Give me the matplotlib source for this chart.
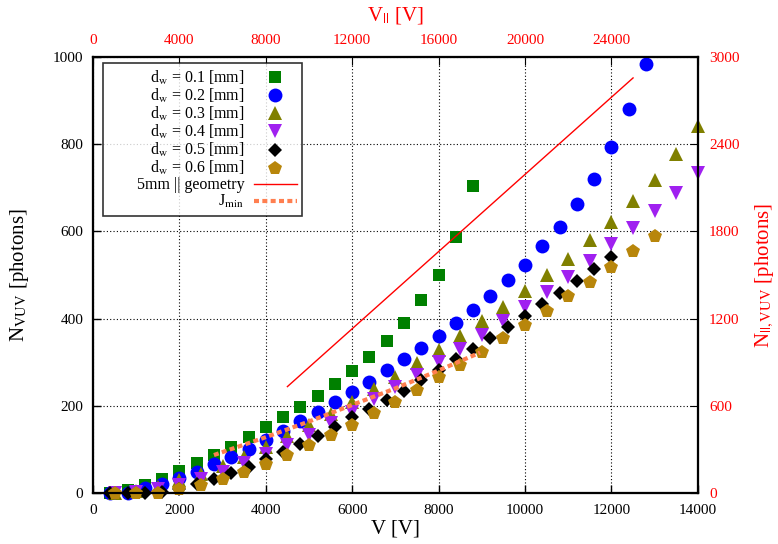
import matplotlib
matplotlib.use("Agg")
import matplotlib.pyplot as plt
import numpy as np

plt.rcParams['font.family'] = ['Liberation Serif', 'DejaVu Serif']
plt.rcParams['mathtext.fontset'] = 'stix'

# measured photon yields, V [V] -> N_VUV [photons]
v_400 = np.arange(400, 12801, 400)
v_500 = np.arange(500, 14001, 500)

n_01 = [0, 7, 18, 33, 51, 68, 86, 106, 128, 151, 174, 197, 222, 249, 280,
        311, 348, 391, 442, 501, 586, 704]
n_02 = [0, 1, 11, 21, 35, 49, 66, 83, 102, 122, 143, 164, 185, 208, 232,
        255, 281, 307, 333, 360, 389, 420, 451, 489, 524, 566, 611, 662,
        720, 793, 880, 985]
n_03 = [1, 4, 13, 30, 43, 62, 82, 105, 130, 155, 182, 209, 238, 267, 297,
        328, 360, 394, 427, 463, 500, 537, 580, 622, 669, 719, 777, 842]
n_04 = [0, 2, 8, 18, 31, 48, 68, 89, 110, 133, 160, 186, 216, 242, 271,
        301, 330, 362, 394, 427, 461, 495, 532, 570, 607, 646, 687, 733]
n_05 = [0, 0, 0, 2, 10, 21, 32, 45, 59, 79, 94, 112, 131, 152, 174, 193,
        213, 235, 260, 283, 307, 330, 355, 381, 407, 433, 459, 486, 513, 541]
n_06 = [0, 0, 1, 9, 18, 31, 47, 67, 87, 110, 132, 157, 183, 209, 236, 266,
        294, 324, 355, 386, 418, 452, 484, 519, 554, 589]

# parallel geometry (top / right axes)
v_par = [9000, 25000]
n_par = [732, 2856]
v_jmin = [5600, 8000, 10000, 12000, 14000, 16000, 17916]
n_jmin = [261, 384, 492, 606, 720, 843, 966]

fig = plt.figure(figsize=(7.78, 5.44), dpi=100)
ax = fig.add_axes([0.1195, 0.0938, 0.7775, 0.8014])
ax2 = ax.twinx()
ax3 = ax2.twiny()

series = [
    (v_400[:len(n_01)], n_01, 's', '#008000', 'd$_\\mathrm{w}$ = 0.1 [mm]', 9),
    (v_400[:len(n_02)], n_02, 'o', '#0000ff', 'd$_\\mathrm{w}$ = 0.2 [mm]', 10),
    (v_500[:len(n_03)], n_03, '^', '#808000', 'd$_\\mathrm{w}$ = 0.3 [mm]', 9.5),
    (v_500[:len(n_04)], n_04, 'v', '#a020f0', 'd$_\\mathrm{w}$ = 0.4 [mm]', 9.5),
    (v_400[:len(n_05)], n_05, 'D', '#000000', 'd$_\\mathrm{w}$ = 0.5 [mm]', 7),
    (v_500[:len(n_06)], n_06, 'p', '#b8860b', 'd$_\\mathrm{w}$ = 0.6 [mm]', 10),
]
handles = []
for x, y, m, c, lab, ms in series:
    h, = ax.plot(x, y, linestyle='none', marker=m, color=c, markersize=ms,
                 markeredgewidth=0, label=lab, clip_on=False, zorder=3)
    handles.append(h)

# leading blanks widen the legend box on the left like the gnuplot key
h1, = ax3.plot(v_par, n_par, color='red', lw=1,
               label='\u00a0' * 7 + '5mm || geometry')
h2, = ax3.plot(v_jmin, n_jmin, color='#ff7f50', lw=3, linestyle=(0, (1.2, 0.8)),
               label='J$_\\mathrm{min}$')
handles += [h1, h2]

ax.set_xlim(0, 14000)
ax.set_ylim(0, 1000)
ax2.set_ylim(0, 3000)
ax3.set_xlim(0, 28000)

ax.set_xticks(np.arange(0, 14001, 2000))
ax.set_yticks(np.arange(0, 1001, 200))
ax2.set_yticks(np.arange(0, 3001, 600))
ax3.set_xticks(np.arange(0, 28001, 4000))
ax3.set_xticklabels([str(t) for t in range(0, 24001, 4000)] + [''])

ax.grid(True, color='black', linestyle=(0, (1, 2)), linewidth=0.8)
ax.tick_params(direction='in', labelsize=11, length=6, width=1)
ax.tick_params(axis='x', pad=8)
ax.tick_params(axis='y', pad=7)
ax2.tick_params(direction='in', labelsize=11, length=6, labelcolor='red', pad=8)
ax3.tick_params(direction='in', labelsize=11, length=6, labelcolor='red', pad=7)
for a in (ax, ax2, ax3):
    for s in a.spines.values():
        s.set_linewidth(1.5)

ax.set_xlabel('V [V]', fontsize=15, labelpad=2)
ax.set_ylabel('N$_\\mathrm{VUV}$ [photons]', fontsize=15, labelpad=16)
ax2.set_ylabel('N$_{||,\\mathrm{VUV}}$ [photons]', fontsize=15, color='red',
               labelpad=10)
ax3.set_xlabel('V$_{||}$ [V]', fontsize=15, color='red', labelpad=10)

leg = ax3.legend(handles=handles, loc='upper left',
                 bbox_to_anchor=(0.0165, 0.986), borderaxespad=0,
                 markerfirst=False, fontsize=11.5, frameon=True, fancybox=False,
                 edgecolor='black', handlelength=2.7, handletextpad=0.6,
                 labelspacing=0.0, borderpad=0.35)
leg.get_frame().set_linewidth(1.2)
for t in leg.get_texts():
    t.set_ha('right')
leg._legend_box.align = 'right'

fig.savefig('out.png', dpi=100)
